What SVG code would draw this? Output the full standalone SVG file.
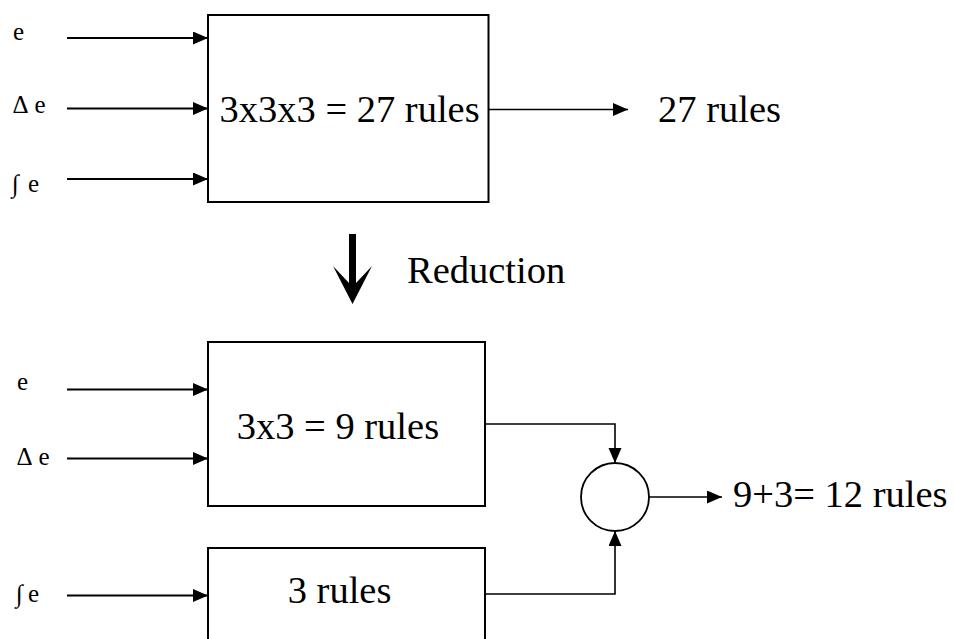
<svg xmlns="http://www.w3.org/2000/svg" width="955" height="639" viewBox="0 0 955 639">
  <style>
    .box { fill: #fff; stroke: #000; stroke-width: 2; }
    .wire { fill: none; stroke: #000; stroke-width: 2; }
    .thin { fill: none; stroke: #000; stroke-width: 1.6; }
    .big { font-size: 38.5px; fill: #000; }
    .small { font-size: 25px; fill: #000; }
  </style>
  <defs>
    <marker id="head" markerUnits="userSpaceOnUse" markerWidth="16" markerHeight="14" refX="15" refY="6.5" orient="auto">
      <path d="M0,0 L15,6.5 L0,13 z" fill="#000"/>
    </marker>
  </defs>
  <rect width="955" height="639" fill="#fff"/>

  <g font-family="Liberation Serif, Tinos, Times New Roman, DejaVu Serif, serif">
    <!-- input labels, upper system -->
    <g id="labels-top">
      <text class="small" x="13" y="39.5">e</text>
      <text class="small" x="12.5" y="113">Δ<tspan x="34.5">e</tspan></text>
      <text class="small" x="12" y="192">∫<tspan x="28">e</tspan></text>
    </g>

    <!-- full rule base -->
    <g id="full-base">
      <rect class="box" x="208" y="15" width="280.5" height="187"/>
      <text class="big" x="219.5" y="121.7">3x3x3 = 27 rules</text>
    </g>

    <g id="full-result">
      <text class="big" x="658" y="121.7">27 rules</text>
    </g>

    <!-- reduction step -->
    <g id="reduction">
      <path d="M349,234 L356,234 L356,283 L372,266 L352.5,304 L333,266 L349,283 z" fill="#000"/>
      <text class="big" x="407" y="283">Reduction</text>
    </g>

    <!-- input labels, lower system -->
    <g id="labels-bottom">
      <text class="small" x="17" y="390">e</text>
      <text class="small" x="16.5" y="465">Δ<tspan x="38.5">e</tspan></text>
      <text class="small" x="16" y="601.5">∫<tspan x="28">e</tspan></text>
    </g>

    <!-- reduced rule bases -->
    <g id="base-2d">
      <rect class="box" x="208" y="342" width="277" height="164"/>
      <text class="big" x="236.7" y="439.3">3x3 = 9 rules</text>
    </g>
    <g id="base-1d">
      <rect class="box" x="208" y="548" width="277" height="100"/>
      <text class="big" x="287.7" y="602.7">3 rules</text>
    </g>

    <!-- summing junction -->
    <g id="sum">
      <circle cx="615" cy="497" r="34" fill="#fff" stroke="#000" stroke-width="1.8"/>
    </g>

    <g id="sum-result">
      <text class="big" x="733" y="507">9+3= 12 rules</text>
    </g>
  </g>

  <!-- connectors -->
  <g id="connectors">
    <line class="wire" x1="67" y1="38" x2="208" y2="38" marker-end="url(#head)"/>
    <line class="wire" x1="67" y1="108.5" x2="208" y2="108.5" marker-end="url(#head)"/>
    <line class="wire" x1="67" y1="179" x2="208" y2="179" marker-end="url(#head)"/>
    <line class="thin" x1="488.5" y1="109.5" x2="628" y2="109.5" marker-end="url(#head)"/>

    <line class="wire" x1="67" y1="389.5" x2="208" y2="389.5" marker-end="url(#head)"/>
    <line class="wire" x1="67" y1="458.5" x2="208" y2="458.5" marker-end="url(#head)"/>
    <line class="wire" x1="67" y1="595.5" x2="208" y2="595.5" marker-end="url(#head)"/>

    <path class="thin" d="M485,424 L615,424 L615,463" marker-end="url(#head)"/>
    <path class="thin" d="M485,594 L615,594 L615,531" marker-end="url(#head)"/>
    <line class="thin" x1="649" y1="497" x2="722" y2="497" marker-end="url(#head)"/>
  </g>
</svg>
